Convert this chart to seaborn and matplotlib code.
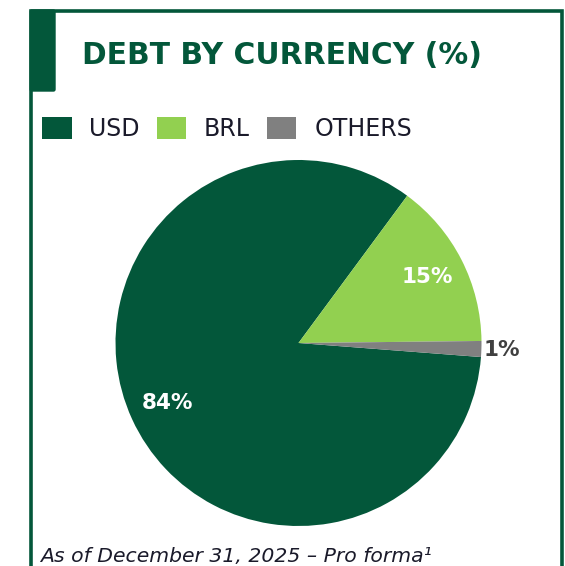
import matplotlib
matplotlib.use("Agg")
import matplotlib.pyplot as plt
import seaborn as sns
from matplotlib.patches import Rectangle, FancyBboxPatch
import numpy as np

# ---- data ----
categories = ["USD", "BRL", "OTHERS"]
shares = [83.9, 14.7, 1.4]
colors = ["#03573A", "#92D050", "#808080"]
label_colors = ["white", "white", "#404040"]
label_dist = [0.79, 0.79, 1.11]
title = "DEBT BY CURRENCY (%)"
footnote = "As of December 31, 2025 – Pro forma¹"

sns.set_theme(style="white")
plt.rcParams["font.family"] = ["DejaVu Sans"]

W, H = 565, 566
fig = plt.figure(figsize=(W / 100, H / 100), dpi=100)
fig.patch.set_facecolor("white")

def fx(x):
    return x / W

def fy(y):
    return 1 - y / H

green = colors[0]
# frame (left, top, right edges; bottom runs off the image)
fl, ft, fr, fb = 31, 11.2, 561.5, 620
fig.patches.append(Rectangle((fx(fl), fy(fb)), fx(fr - fl), (fb - ft) / H,
                             transform=fig.transFigure, fill=False, edgecolor=green,
                             linewidth=2.6, zorder=0))
# accent bar
fig.patches.append(FancyBboxPatch((fx(29.5), fy(91.7)), fx(26.2), 82.4 / H,
                                  boxstyle="round,pad=0,rounding_size=0.004",
                                  transform=fig.transFigure, facecolor=green,
                                  edgecolor="none", zorder=1))

fig.text(fx(81.5), fy(64.5), title, color=green, fontsize=21.4, fontweight="bold",
         ha="left", va="baseline")

# pie axes
cx, cy, r = 298.5, 343, 183
ax = fig.add_axes([fx(cx - r), fy(cy + r), 2 * r / W, 2 * r / H])
wedges, _ = ax.pie(shares, colors=colors, startangle=-4.4, counterclock=False,
                   radius=1, wedgeprops=dict(linewidth=0))
ax.set_xlim(-1, 1)
ax.set_ylim(-1, 1)
ax.set_axis_off()

for w, v, d, c in zip(wedges, shares, label_dist, label_colors):
    ang = np.deg2rad((w.theta1 + w.theta2) / 2)
    ax.text(d * np.cos(ang), d * np.sin(ang), f"{v:.0f}%", color=c,
            fontsize=15.5, fontweight="bold", ha="center", va="center",
            clip_on=False)

leg = fig.legend(wedges, categories, loc="upper left",
                 bbox_to_anchor=(fx(42), fy(116.5)), ncol=3, frameon=False,
                 fontsize=17, handlelength=1.25, handleheight=1.08,
                 handletextpad=0.75, columnspacing=0.72, borderpad=0,
                 borderaxespad=0, labelcolor="#1a1a2a")

fig.text(fx(40.5), fy(561.5), footnote, color="#1a1a2a", fontsize=14.7,
         fontstyle="italic", ha="left", va="baseline")

fig.savefig("out.png", dpi=100)
